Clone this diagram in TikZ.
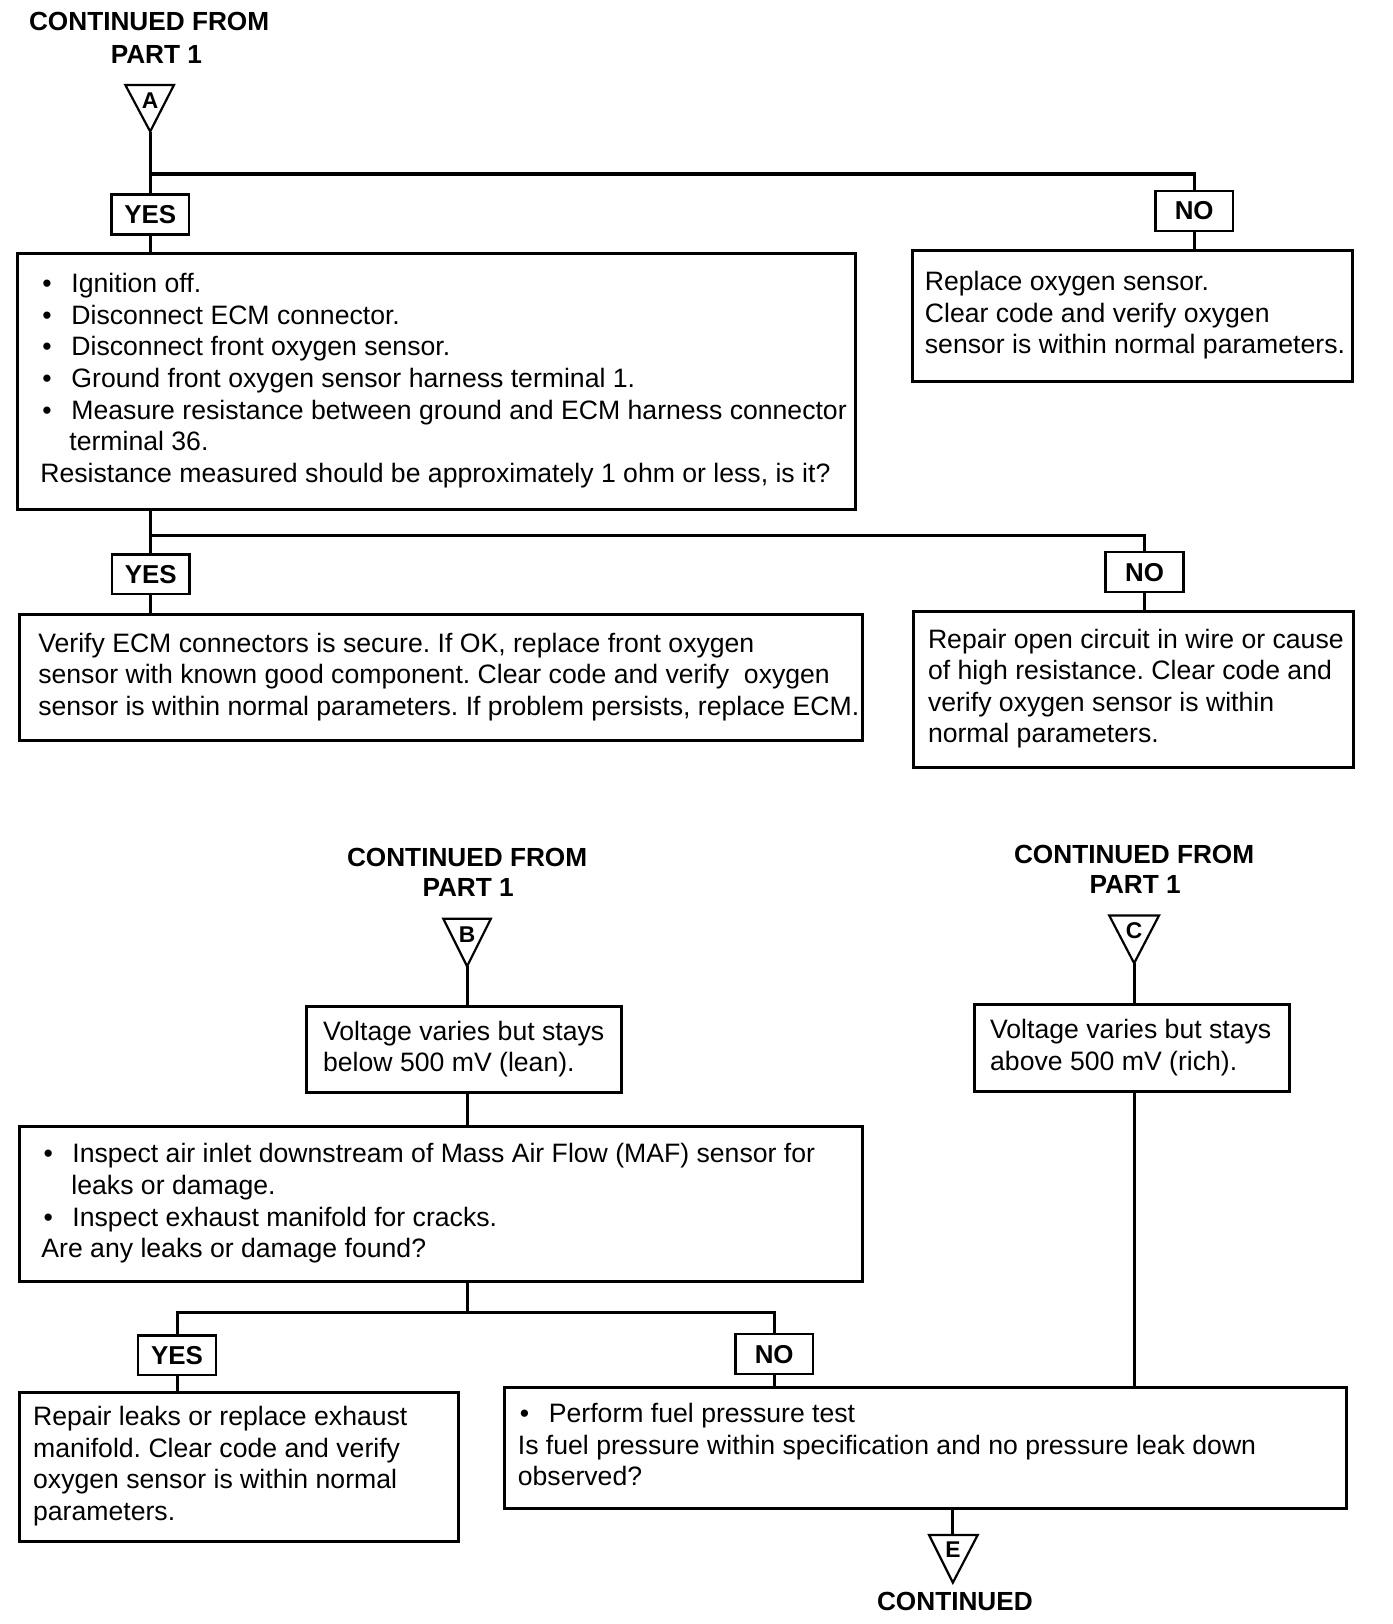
\documentclass[tikz,border=0pt]{standalone}
\usepackage{fontspec}
\setmainfont{Liberation Sans}
\usetikzlibrary{calc}
\frenchspacing
\newcommand{\boxtxt}[2]{\makebox[#1][l]{\begin{tabular}{@{}l@{}}#2\end{tabular}}}
\newcommand{\bulitem}{\makebox[30pt][l]{\hspace{2pt}\textbullet}}
\tikzset{
  lbl/.style={draw, line width=2.3pt, font=\fontsize{25}{30}\selectfont\bfseries,
    minimum width=75pt, minimum height=38.5pt, inner sep=0pt},
  hd/.style={font=\fontsize{25.3}{30}\selectfont\bfseries, inner sep=0pt},
  ltr/.style={font=\fontsize{22}{26}\selectfont\bfseries, inner sep=0pt},
  bigbox/.style={draw, line width=2.9pt, inner ysep=0pt, font=\fontsize{25.7}{30.5}\selectfont\frenchspacing},
  conn/.style={line width=2.9pt},
  tri/.style={line width=2.1pt, line join=miter}
}
\begin{document}
\begin{tikzpicture}[x=1pt,y=-1pt]
\useasboundingbox (0,0) rectangle (1344,1568);

% ---------- Part A ----------
\node[hd] (hA1) at (144,21) {CONTINUED FROM};
\node[hd] (hA2) at (151,53) {PART 1};
\draw[tri] (121,82) -- (168,82) -- (145,127) -- cycle;
\node[ltr] (lA) at (145,97) {A};
\coordinate (aA) at (145,127);
\coordinate (jA) at (145,168);

\node[lbl] (y1) at (145,207) {YES};
\node[lbl] (n1) at (1153,203.5) {NO};

\node[bigbox, inner xsep=22pt, minimum width=809pt, minimum height=247pt] (b1) at (421.5,368)
 {\boxtxt{765pt}{%
 \bulitem Ignition off.\\
 \bulitem Disconnect ECM connector.\\
 \bulitem Disconnect front oxygen sensor.\\
 \bulitem Ground front oxygen sensor harness terminal 1.\\
 \bulitem Measure resistance between ground and ECM harness connector\\
 \hspace*{28pt}terminal 36.\\
 Resistance measured should be approximately 1 ohm or less, is it?}};

\node[bigbox, inner xsep=12pt, minimum width=425pt, minimum height=126pt] (nb1) at (1093.5,305)
 {\boxtxt{401pt}{%
 Replace oxygen sensor.\\
 Clear code and verify oxygen\\
 sensor is within normal parameters.}};

\draw[conn] (aA) -- (y1.north);
\draw[conn] (jA) -| (n1.north);
\draw[conn] (y1.south) -- (y1.south |- b1.north);
\draw[conn] (n1.south) -- (n1.south |- nb1.north);

% ---------- after box 1 ----------
\node[lbl] (y2) at (145.5,554.5) {YES};
\node[lbl] (n2) at (1105,552.5) {NO};
\coordinate (jB) at (145.5,517);

\node[bigbox, inner xsep=18pt, minimum width=814pt, minimum height=122pt] (yb2) at (426,654)
 {\boxtxt{778pt}{%
 Verify ECM connectors is secure. If OK, replace front oxygen\\
 sensor with known good component. Clear code and verify\ \ oxygen\\
 sensor is within normal parameters. If problem persists, replace ECM.}};

\node[bigbox, inner xsep=14pt, minimum width=425pt, minimum height=151pt] (nb2) at (1094.5,665.5)
 {\boxtxt{397pt}{%
 Repair open circuit in wire or cause\\
 of high resistance. Clear code and\\
 verify oxygen sensor is within\\
 normal parameters.}};

\draw[conn] (y2.north |- b1.south) -- (y2.north);
\draw[conn] (jB) -| (n2.north);
\draw[conn] (y2.south) -- (y2.south |- yb2.north);
\draw[conn] (n2.south) -- (n2.south |- nb2.north);

% ---------- Part B ----------
\node[hd] (hB1) at (451,828) {CONTINUED FROM};
\node[hd] (hB2) at (452,857) {PART 1};
\draw[tri] (428,887) -- (474,887) -- (451,933) -- cycle;
\node[ltr] (lB) at (451,902) {B};
\coordinate (aB) at (451,933);

\node[bigbox, inner xsep=16pt, minimum width=304pt, minimum height=83pt] (lean) at (448,1013.5)
 {\boxtxt{272pt}{%
 Voltage varies but stays\\
 below 500 mV (lean).}};

\node[bigbox, inner xsep=21pt, minimum width=814pt, minimum height=149pt] (maf) at (426,1162.5)
 {\boxtxt{772pt}{%
 \bulitem Inspect air inlet downstream of Mass Air Flow (MAF) sensor for\\
 \hspace*{29pt}leaks or damage.\\
 \bulitem Inspect exhaust manifold for cracks.\\
 Are any leaks or damage found?}};

\draw[conn] (aB) -- (aB |- lean.north);
\draw[conn] (aB |- lean.south) -- (aB |- maf.north);

\coordinate (jC) at (451,1267);
\node[lbl] (y3) at (171,1308.5) {YES};
\node[lbl] (n3) at (747.5,1307.5) {NO};

\node[bigbox, inner xsep=13pt, minimum width=424pt, minimum height=144pt] (yb3) at (231,1416)
 {\boxtxt{398pt}{%
 Repair leaks or replace exhaust\\
 manifold. Clear code and verify\\
 oxygen sensor is within normal\\
 parameters.}};

\node[bigbox, inner xsep=13pt, minimum width=813pt, minimum height=116pt] (nb3) at (893.5,1398)
 {\boxtxt{787pt}{%
 \bulitem Perform fuel pressure test\\
 Is fuel pressure within specification and no pressure leak down\\
 observed?}};

\draw[conn] (jC |- maf.south) -- (jC);
\draw[conn] (y3.north) -- (y3.north |- jC) -- (n3.north |- jC) -- (n3.north);
\draw[conn] (y3.south) -- (y3.south |- yb3.north);
\draw[conn] (n3.south) -- (n3.south |- nb3.north);

% ---------- Part C ----------
\node[hd] (hC1) at (1095,825) {CONTINUED FROM};
\node[hd] (hC2) at (1096,854) {PART 1};
\draw[tri] (1071,884) -- (1119,884) -- (1095,930) -- cycle;
\node[ltr] (lC) at (1095,899) {C};
\coordinate (aC) at (1095,930);

\node[bigbox, inner xsep=15pt, minimum width=304pt, minimum height=84pt] (rich) at (1093,1012)
 {\boxtxt{274pt}{%
 Voltage varies but stays\\
 above 500 mV (rich).}};

\draw[conn] (aC) -- (aC |- rich.north);
\draw[conn] (aC |- rich.south) -- (aC |- nb3.north);

% ---------- E ----------
\coordinate (tE) at (920,1482);
\draw[conn] (tE |- nb3.south) -- (tE);
\draw[tri] (897,1482) -- (944,1482) -- (920,1528) -- cycle;
\node[ltr] (lE) at (920,1496) {E};
\node[hd] (hE) at (922,1546) {CONTINUED};
\end{tikzpicture}
\end{document}
